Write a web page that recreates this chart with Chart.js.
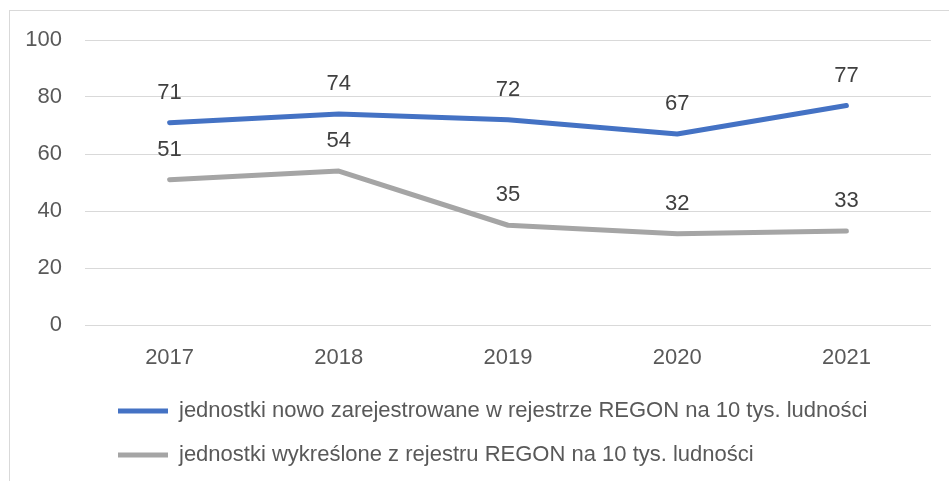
<!DOCTYPE html>
<html>
<head>
<meta charset="utf-8">
<script src="https://cdn.jsdelivr.net/npm/chart.js@4/dist/chart.umd.min.js"></script>
<style>
  html, body { margin: 0; padding: 0; background: #fff; overflow: hidden; }
  #wrap { position: relative; width: 949px; height: 481px; overflow: hidden; }
  #frame { position: absolute; left: 9px; top: 10px; width: 960px; height: 600px; border: 1px solid #D9D9D9; box-sizing: border-box; }
  #chart { position: absolute; left: 0; top: 0; }
</style>
</head>
<body>
<div id="wrap">
  <div id="frame"></div>
  <canvas id="chart" width="949" height="502"></canvas>
</div>
<script>
/*
-------------------------------------
/// data
-------------------------------------
*/
const years = ['2017', '2018', '2019', '2020', '2021'];
const registered = [71, 74, 72, 67, 77];
const removed = [51, 54, 35, 32, 33];
const seriesNames = [
  'jednostki nowo zarejestrowane w rejestrze REGON na 10 tys. ludności',
  'jednostki wykreślone z rejestru REGON na 10 tys. ludności'
];
const yTicks = [0, 20, 40, 60, 80, 100];

const FONT = { family: '"Liberation Sans", Arial, sans-serif', size: 22 };

/*
-------------------------------------
/// value labels above points
-------------------------------------
*/
const valueLabels = {
  id: 'valueLabels',
  afterLayout(chart) {
    // nudge legend a bit to the right, like the original
    chart.legend.left += 11;
  },
  afterDatasetsDraw(chart) {
    const ctx = chart.ctx;
    ctx.save();
    ctx.font = FONT.size + 'px ' + FONT.family;
    ctx.fillStyle = '#404040';
    ctx.textAlign = 'center';
    ctx.textBaseline = 'alphabetic';
    chart.data.datasets.forEach((ds, i) => {
      chart.getDatasetMeta(i).data.forEach((pt, j) => {
        ctx.fillText(ds.data[j], pt.x, pt.y - 24);
      });
    });
    ctx.restore();
  }
};

/*
-------------------------------------
/// chart
-------------------------------------
*/
const ctx = document.getElementById('chart').getContext('2d');
const myChart = new Chart(ctx, {
  type: 'line',
  data: {
    labels: years,
    datasets: [{
      label: seriesNames[0],
      data: registered,
      borderColor: '#4472C4',
      backgroundColor: '#4472C4',
      borderWidth: 5,
      borderCapStyle: 'round',
      borderJoinStyle: 'round',
      pointRadius: 0,
      tension: 0
    }, {
      label: seriesNames[1],
      data: removed,
      borderColor: '#A5A5A5',
      backgroundColor: '#A5A5A5',
      borderWidth: 5,
      borderCapStyle: 'round',
      borderJoinStyle: 'round',
      pointRadius: 0,
      tension: 0
    }]
  },
  options: {
    responsive: false,
    animation: false,
    layout: { padding: { top: 40, right: 18, bottom: 26, left: 25 } },
    scales: {
      x: {
        offset: true,
        grid: { display: false },
        border: { display: false },
        ticks: { color: '#595959', font: FONT, padding: 12, maxRotation: 0 },
        afterFit: s => { s.height = 53; }
      },
      y: {
        min: 0,
        max: 100,
        afterBuildTicks: s => { s.ticks = yTicks.map(v => ({ value: v })); },
        grid: { color: '#D9D9D9', lineWidth: 1, drawTicks: false },
        border: { display: false },
        ticks: { color: '#595959', font: FONT, padding: 23 },
        afterFit: s => { s.width = 60; }
      }
    },
    plugins: {
      tooltip: { enabled: false },
      legend: {
        position: 'bottom',
        align: 'start',
        fullSize: false,
        labels: {
          color: '#595959',
          font: FONT,
          usePointStyle: true,
          pointStyle: 'line',
          pointStyleWidth: 50,
          padding: 22
        }
      }
    }
  },
  plugins: [valueLabels]
});
</script>
</body>
</html>
